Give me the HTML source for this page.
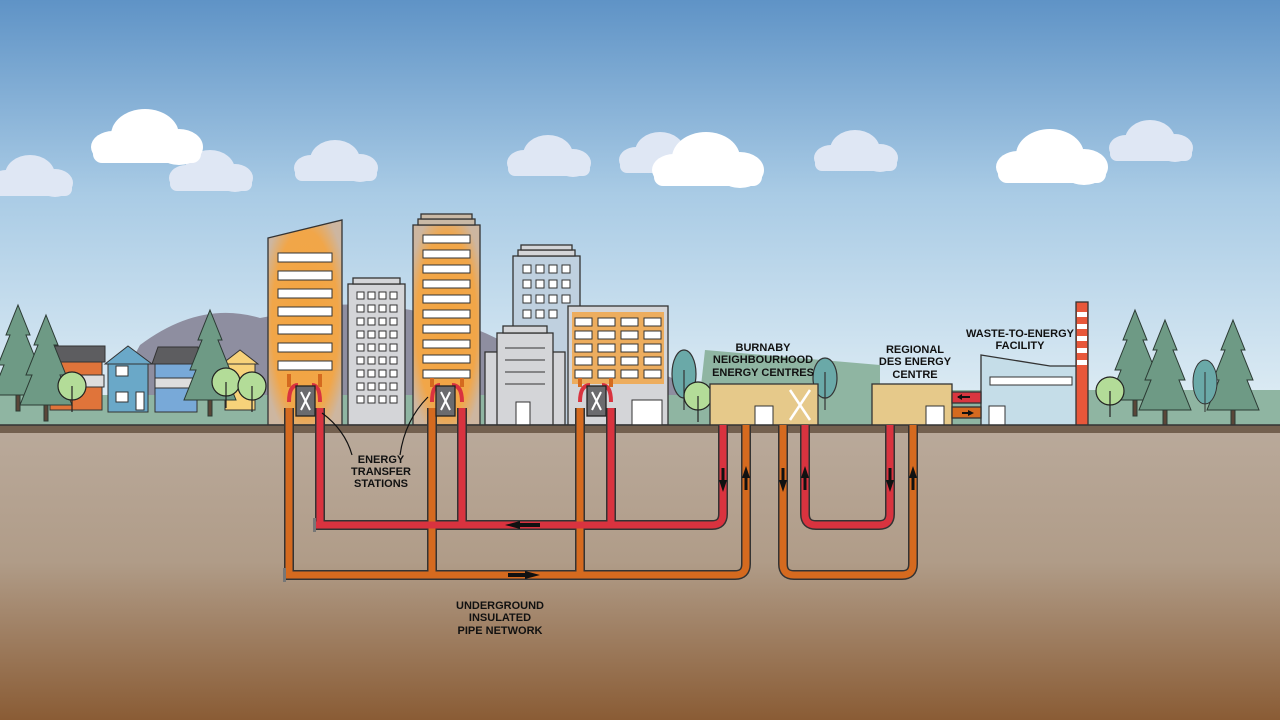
<!DOCTYPE html>
<html><head><meta charset="utf-8"><style>
html,body{margin:0;padding:0;width:1280px;height:720px;overflow:hidden}
text{font-family:"Liberation Sans",sans-serif;font-weight:bold;font-size:11px;fill:#111}
</style></head><body>
<svg width="1280" height="720" viewBox="0 0 1280 720" xmlns="http://www.w3.org/2000/svg">
<defs>
<linearGradient id="sky" x1="0" y1="0" x2="0" y2="1">
<stop offset="0" stop-color="#5f93c6"/><stop offset="0.45" stop-color="#a9cbe5"/><stop offset="1" stop-color="#e4f0f6"/>
</linearGradient>
<linearGradient id="soil" x1="0" y1="0" x2="0" y2="1">
<stop offset="0" stop-color="#b9a99a"/><stop offset="0.45" stop-color="#b09c88"/><stop offset="1" stop-color="#8a5c35"/>
</linearGradient>
<radialGradient id="glow" cx="0.5" cy="0.5" r="0.6">
<stop offset="0" stop-color="#f3a43f"/><stop offset="0.75" stop-color="#f1a649"/><stop offset="1" stop-color="#cdb6a0"/>
</radialGradient>
<g id="cloud" fill="#fff"><ellipse cx="0" cy="0" rx="34" ry="26"/><ellipse cx="34" cy="12" rx="24" ry="18"/><ellipse cx="-32" cy="12" rx="22" ry="16"/><rect x="-52" y="10" width="108" height="18" rx="9"/></g>
<g id="cloud2" fill="#dfe7f4"><ellipse cx="0" cy="0" rx="25" ry="20"/><ellipse cx="25" cy="8" rx="18" ry="14"/><ellipse cx="-24" cy="8" rx="17" ry="13"/><rect x="-40" y="6" width="82" height="15" rx="7"/></g>
<g id="pine" fill="#6e9a85" stroke="#2b3a33" stroke-width="1"><polygon points="0,-90 12,-60 8,-60 20,-30 14,-30 26,0 -26,0 -14,-30 -20,-30 -8,-60 -12,-60"/><rect x="-2" y="0" width="4" height="16" fill="#5a4638"/></g>
<g id="round" stroke="#222" stroke-width="1.2"><circle cx="0" cy="-14" r="14" fill="#b3dc98"/><line x1="0" y1="-14" x2="0" y2="12"/></g>
</defs>
<rect width="1280" height="430" fill="url(#sky)"/>
<!-- clouds -->
<use href="#cloud2" x="210" y="170"/>
<use href="#cloud" x="145" y="135"/>
<use href="#cloud2" x="30" y="175"/><use href="#cloud2" x="335" y="160"/>
<use href="#cloud2" x="548" y="155"/><use href="#cloud2" x="660" y="152"/>
<use href="#cloud" x="706" y="158"/><use href="#cloud2" x="855" y="150"/>
<use href="#cloud2" x="1150" y="140"/><use href="#cloud" x="1050" y="155"/>
<!-- mountain -->
<path d="M100,420 L140,345 Q200,300 260,318 L330,305 Q420,300 500,340 L560,330 L700,390 L700,425 L100,425Z" fill="#8e8ea0"/>
<!-- green band -->
<path d="M0,395 L700,395 L705,350 L880,365 L880,425 L0,425Z" fill="#8fb5a2"/>
<rect x="0" y="400" width="1280" height="25" fill="#8fb5a2"/>
<rect x="940" y="390" width="340" height="35" fill="#8fb5a2"/>
<!-- houses -->
<g stroke="#333" stroke-width="1">
<rect x="50" y="360" width="52" height="50" fill="#e0743a"/><polygon points="45,362 55,346 105,346 105,362" fill="#5d5d60"/>
<rect x="108" y="362" width="40" height="50" fill="#6aa8c8"/><polygon points="105,364 128,346 152,364" fill="#6aa8c8"/>
<rect x="155" y="362" width="42" height="50" fill="#78a9d8"/><polygon points="152,364 158,347 198,347 200,364" fill="#5d5d60"/>
<rect x="225" y="362" width="30" height="48" fill="#f7d27a"/><polygon points="222,364 240,350 258,364" fill="#f7d27a"/>
<rect x="56" y="375" width="48" height="12" fill="#ddd"/><rect x="155" y="378" width="40" height="10" fill="#ddd"/>
<rect x="116" y="366" width="12" height="10" fill="#fff"/><rect x="116" y="392" width="12" height="10" fill="#fff"/><rect x="136" y="392" width="8" height="18" fill="#fff"/>
</g>
<use href="#pine" x="18" y="395"/><use href="#pine" x="46" y="405"/><use href="#pine" x="210" y="400"/>
<use href="#round" x="72" y="400"/><use href="#round" x="226" y="396"/><use href="#round" x="252" y="400"/>
<!-- buildings -->
<g stroke="#333" stroke-width="1.3">
<polygon points="268,238 342,220 342,425 268,425" fill="url(#glow)"/>
<rect x="348" y="284" width="57" height="141" fill="#d4d5d8"/><rect x="353" y="278" width="47" height="6" fill="#d4d5d8"/>
<rect x="413" y="225" width="67" height="200" fill="url(#glow)"/><rect x="418" y="219" width="57" height="6" fill="#c9b9a6"/><rect x="421" y="214" width="51" height="5" fill="#c9b9a6"/>
<rect x="513" y="256" width="67" height="169" fill="#bfd0df"/><rect x="518" y="250" width="57" height="6" fill="#d4d5d8"/><rect x="521" y="245" width="51" height="5" fill="#d4d5d8"/>
<rect x="485" y="352" width="80" height="73" fill="#d4d5d8"/><rect x="497" y="333" width="56" height="92" fill="#d4d5d8"/><rect x="503" y="326" width="44" height="7" fill="#d4d5d8"/>
<rect x="568" y="306" width="100" height="119" fill="#d4d5d8"/>
</g>
<rect x="572" y="312" width="92" height="72" fill="#f1a649" opacity="0.85"/>
<g fill="#fff" stroke="#333" stroke-width="1">
<rect x="278" y="253" width="54" height="9"/><rect x="278" y="271" width="54" height="9"/><rect x="278" y="289" width="54" height="9"/><rect x="278" y="307" width="54" height="9"/><rect x="278" y="325" width="54" height="9"/><rect x="278" y="343" width="54" height="9"/><rect x="278" y="361" width="54" height="9"/>
<rect x="423" y="235" width="47" height="8"/><rect x="423" y="250" width="47" height="8"/><rect x="423" y="265" width="47" height="8"/><rect x="423" y="280" width="47" height="8"/><rect x="423" y="295" width="47" height="8"/><rect x="423" y="310" width="47" height="8"/><rect x="423" y="325" width="47" height="8"/><rect x="423" y="340" width="47" height="8"/><rect x="423" y="355" width="47" height="8"/><rect x="423" y="370" width="47" height="8"/>
<rect x="575" y="318" width="17" height="8"/><rect x="598" y="318" width="17" height="8"/><rect x="621" y="318" width="17" height="8"/><rect x="644" y="318" width="17" height="8"/>
<rect x="575" y="331" width="17" height="8"/><rect x="598" y="331" width="17" height="8"/><rect x="621" y="331" width="17" height="8"/><rect x="644" y="331" width="17" height="8"/>
<rect x="575" y="344" width="17" height="8"/><rect x="598" y="344" width="17" height="8"/><rect x="621" y="344" width="17" height="8"/><rect x="644" y="344" width="17" height="8"/>
<rect x="575" y="357" width="17" height="8"/><rect x="598" y="357" width="17" height="8"/><rect x="621" y="357" width="17" height="8"/><rect x="644" y="357" width="17" height="8"/>
<rect x="575" y="370" width="17" height="8"/><rect x="598" y="370" width="17" height="8"/><rect x="621" y="370" width="17" height="8"/><rect x="644" y="370" width="17" height="8"/>
<rect x="523" y="265" width="8" height="8"/><rect x="536" y="265" width="8" height="8"/><rect x="549" y="265" width="8" height="8"/><rect x="562" y="265" width="8" height="8"/>
<rect x="523" y="280" width="8" height="8"/><rect x="536" y="280" width="8" height="8"/><rect x="549" y="280" width="8" height="8"/><rect x="562" y="280" width="8" height="8"/>
<rect x="523" y="295" width="8" height="8"/><rect x="536" y="295" width="8" height="8"/><rect x="549" y="295" width="8" height="8"/><rect x="562" y="295" width="8" height="8"/>
<rect x="523" y="310" width="8" height="8"/><rect x="536" y="310" width="8" height="8"/><rect x="549" y="310" width="8" height="8"/>
<rect x="516" y="402" width="14" height="23"/><rect x="632" y="400" width="30" height="25"/>
</g>
<g fill="#fff" stroke="#333" stroke-width="1">
<rect x="357" y="292" width="7" height="7"/><rect x="368" y="292" width="7" height="7"/><rect x="379" y="292" width="7" height="7"/><rect x="390" y="292" width="7" height="7"/>
<rect x="357" y="305" width="7" height="7"/><rect x="368" y="305" width="7" height="7"/><rect x="379" y="305" width="7" height="7"/><rect x="390" y="305" width="7" height="7"/>
<rect x="357" y="318" width="7" height="7"/><rect x="368" y="318" width="7" height="7"/><rect x="379" y="318" width="7" height="7"/><rect x="390" y="318" width="7" height="7"/>
<rect x="357" y="331" width="7" height="7"/><rect x="368" y="331" width="7" height="7"/><rect x="379" y="331" width="7" height="7"/><rect x="390" y="331" width="7" height="7"/>
<rect x="357" y="344" width="7" height="7"/><rect x="368" y="344" width="7" height="7"/><rect x="379" y="344" width="7" height="7"/><rect x="390" y="344" width="7" height="7"/>
<rect x="357" y="357" width="7" height="7"/><rect x="368" y="357" width="7" height="7"/><rect x="379" y="357" width="7" height="7"/><rect x="390" y="357" width="7" height="7"/>
<rect x="357" y="370" width="7" height="7"/><rect x="368" y="370" width="7" height="7"/><rect x="379" y="370" width="7" height="7"/><rect x="390" y="370" width="7" height="7"/>
<rect x="357" y="383" width="7" height="7"/><rect x="368" y="383" width="7" height="7"/><rect x="379" y="383" width="7" height="7"/><rect x="390" y="383" width="7" height="7"/>
<rect x="357" y="396" width="7" height="7"/><rect x="368" y="396" width="7" height="7"/><rect x="379" y="396" width="7" height="7"/><rect x="390" y="396" width="7" height="7"/>
</g>
<g stroke="#333" stroke-width="1"><line x1="505" y1="348" x2="545" y2="348"/><line x1="505" y1="360" x2="545" y2="360"/><line x1="505" y1="372" x2="545" y2="372"/><line x1="505" y1="384" x2="545" y2="384"/></g>
<!-- right side -->
<use href="#pine" x="1135" y="400"/><use href="#pine" x="1165" y="410"/><use href="#pine" x="1233" y="410"/>
<g stroke="#333" stroke-width="1"><ellipse cx="1205" cy="382" rx="12" ry="22" fill="#6aa9a8"/><line x1="1205" y1="372" x2="1205" y2="412"/></g>
<g stroke="#333" stroke-width="1.2"><ellipse cx="684" cy="374" rx="12" ry="24" fill="#6aa9a8"/><line x1="684" y1="370" x2="684" y2="410"/><ellipse cx="825" cy="378" rx="12" ry="20" fill="#6aa9a8"/><line x1="825" y1="372" x2="825" y2="410"/></g>
<use href="#round" x="698" y="410"/><use href="#round" x="1110" y="405"/>
<g stroke="#333" stroke-width="1.3">
<rect x="710" y="384" width="108" height="42" fill="#e6c98a"/>
<rect x="872" y="384" width="80" height="42" fill="#e6c98a"/>
<polygon points="981,355 1050,366 1077,366 1077,426 981,426" fill="#c5dde8"/>
<rect x="1076" y="302" width="12" height="124" fill="#e8573a"/>
<rect x="952" y="392" width="29" height="11" fill="#d9363f"/><rect x="952" y="407" width="29" height="11" fill="#d56a1f"/>
</g>
<g fill="#fff"><rect x="1077" y="312" width="10" height="5"/><rect x="1077" y="324" width="10" height="5"/><rect x="1077" y="336" width="10" height="5"/><rect x="1077" y="348" width="10" height="5"/><rect x="1077" y="360" width="10" height="5"/></g>
<g fill="#fff" stroke="#333" stroke-width="1"><rect x="755" y="406" width="18" height="20"/><rect x="926" y="406" width="18" height="20"/><rect x="989" y="406" width="16" height="20"/><rect x="990" y="377" width="82" height="8"/></g>
<path d="M790,390 Q800,405 810,420 M810,390 Q800,405 790,420" stroke="#fff" stroke-width="2.5" fill="none"/>
<path d="M970,397 L958,397 M970,413 L962,413" stroke="#111" stroke-width="2"/><polygon points="957,397 962,394 962,400" fill="#111"/><polygon points="974,413 968,410 968,416" fill="#111"/>
<!-- ground -->
<rect x="0" y="432" width="1280" height="288" fill="url(#soil)"/>
<rect x="0" y="425" width="1280" height="8" fill="#73604f"/>
<line x1="0" y1="425" x2="1280" y2="425" stroke="#333" stroke-width="1.5"/>
<!-- pipes -->
<g fill="none" stroke-linejoin="round">
<g stroke="#333" stroke-width="10">
<path d="M285,575 L735,575 Q746,575 746,564 L746,425"/>
<path d="M315,525 L712,525 Q723,525 723,514 L723,425"/>
<path d="M783,425 L783,564 Q783,575 794,575 L902,575 Q913,575 913,564 L913,425"/>
<path d="M805,425 L805,514 Q805,525 816,525 L879,525 Q890,525 890,514 L890,425"/>
<path d="M289,408 L289,575 M432,408 L432,575 M580,408 L580,575 M320,408 L320,525 M462,408 L462,525 M611,408 L611,525"/>
</g>
<g stroke="#d56a1f" stroke-width="7">
<path d="M285,575 L735,575 Q746,575 746,564 L746,425"/>
<path d="M783,425 L783,564 Q783,575 794,575 L902,575 Q913,575 913,564 L913,425"/>
<path d="M289,408 L289,575 M432,408 L432,575 M580,408 L580,575"/>
</g>
<g stroke="#d9333f" stroke-width="7">
<path d="M315,525 L712,525 Q723,525 723,514 L723,425"/>
<path d="M805,425 L805,514 Q805,525 816,525 L879,525 Q890,525 890,514 L890,425"/>
<path d="M320,408 L320,525 M462,408 L462,525 M611,408 L611,525"/>
</g>
<g stroke-width="4"><path d="M289,402 Q289,385 298,385 M320,402 Q320,385 312,385 M432,402 Q432,385 440,385 M462,402 Q462,385 452,385 M580,402 Q580,385 590,385 M611,402 Q611,385 602,385" stroke="#d9333f"/>
<path d="M289,374 L289,387 M320,374 L320,387 M432,378 L432,387 M462,378 L462,387 M580,378 L580,387 M611,378 L611,387" stroke="#d56a1f"/></g>
</g>
<rect x="283" y="568" width="3" height="14" fill="#777"/><rect x="313" y="518" width="3" height="14" fill="#777"/>
<!-- stations -->
<g fill="#6b6b6e" stroke="#222" stroke-width="1.3"><rect x="296" y="386" width="19" height="30"/><rect x="436" y="386" width="19" height="30"/><rect x="587" y="386" width="19" height="30"/></g>
<g stroke="#fff" stroke-width="2" fill="none"><path d="M301,392 L310,410 M310,392 L301,410 M441,392 L450,410 M450,392 L441,410 M592,392 L601,410 M601,392 L592,410"/></g>
<!-- arrows -->
<g fill="#111"><polygon points="505,525 520,521 520,529"/><rect x="518" y="523" width="22" height="4"/>
<polygon points="540,575 525,571 525,579"/><rect x="508" y="573" width="20" height="4"/>
<polygon points="723,492 719,480 727,480"/><rect x="721.5" y="468" width="3" height="14"/>
<polygon points="746,466 742,478 750,478"/><rect x="744.5" y="476" width="3" height="14"/>
<polygon points="783,492 779,480 787,480"/><rect x="781.5" y="468" width="3" height="14"/>
<polygon points="890,492 886,480 894,480"/><rect x="888.5" y="468" width="3" height="14"/>
<polygon points="913,466 909,478 917,478"/><rect x="911.5" y="476" width="3" height="14"/>
<polygon points="805,466 801,478 809,478"/><rect x="803.5" y="476" width="3" height="14"/>
</g>
<g stroke="#111" stroke-width="1.2" fill="none"><path d="M352,455 Q345,430 322,413"/><path d="M400,455 Q405,420 428,397"/></g>
<!-- labels -->
<g text-anchor="middle">
<text x="381" y="463">ENERGY</text><text x="381" y="475">TRANSFER</text><text x="381" y="487">STATIONS</text>
<text x="500" y="609">UNDERGROUND</text><text x="500" y="621">INSULATED</text><text x="500" y="634">PIPE NETWORK</text>
<text x="763" y="351">BURNABY</text><text x="763" y="363">NEIGHBOURHOOD</text><text x="763" y="376">ENERGY CENTRES</text>
<text x="915" y="353">REGIONAL</text><text x="915" y="365">DES ENERGY</text><text x="915" y="378">CENTRE</text>
<text x="1020" y="337">WASTE-TO-ENERGY</text><text x="1020" y="349">FACILITY</text>
</g>
</svg>
</body></html>
